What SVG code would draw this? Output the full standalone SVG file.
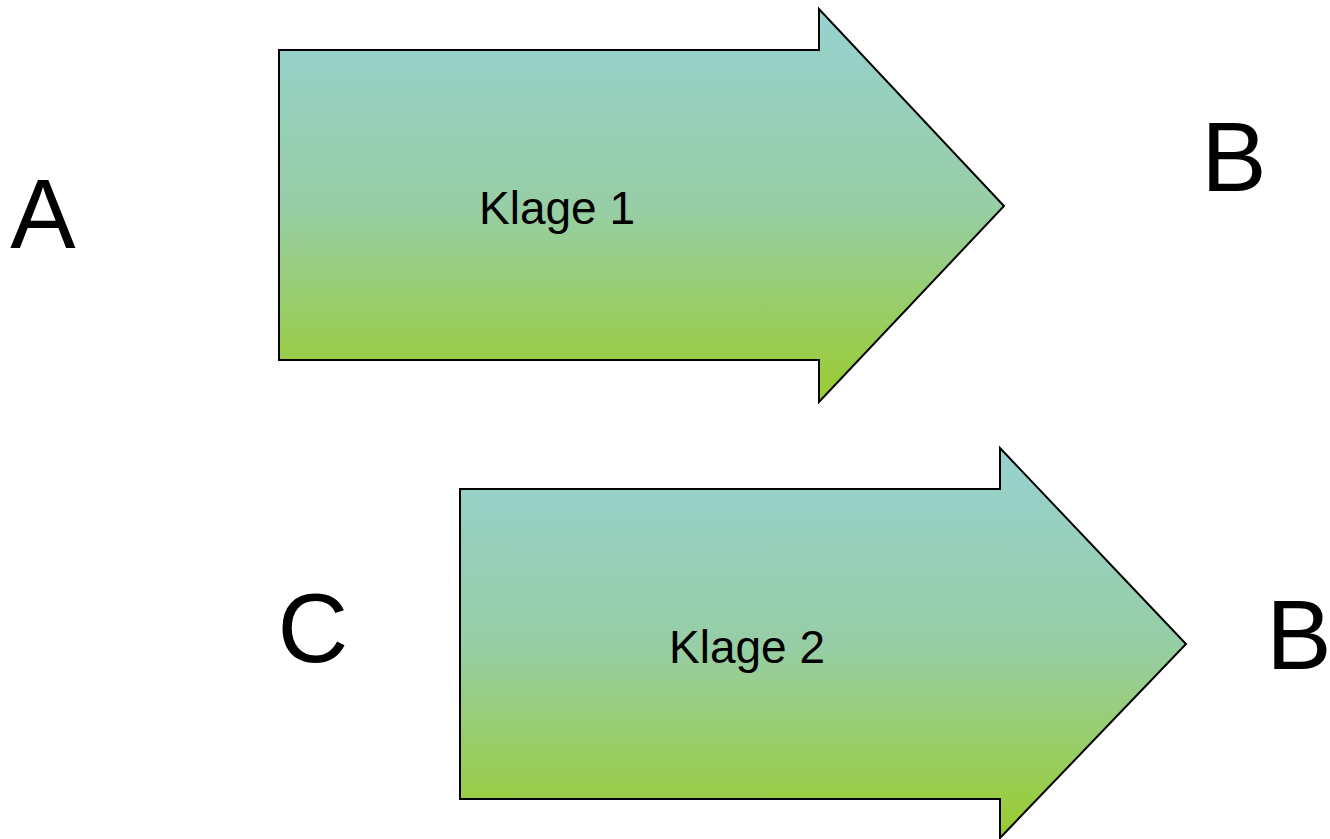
<svg xmlns="http://www.w3.org/2000/svg" width="1330" height="839" viewBox="0 0 1330 839">
<defs>
<linearGradient id="g" x1="0" y1="0" x2="0" y2="1">
<stop offset="0" stop-color="#97D1D0"/>
<stop offset="0.5" stop-color="#97CEA6"/>
<stop offset="1" stop-color="#99CC2E"/>
</linearGradient>
</defs>
<style>
.arrow{fill:url(#g);stroke:#000;stroke-width:2;stroke-linejoin:miter}
.big{font-family:"Liberation Sans",Arial,sans-serif;font-size:98px;fill:#000;text-anchor:middle}
.lbl{font-family:"Liberation Sans",Arial,sans-serif;font-size:46px;fill:#000;text-anchor:middle}
</style>
<g id="arrow1">
<path class="arrow" d="M279,50 H819 V9 L1004,206 L819,402 V360 H279 Z"/>
<text class="lbl" x="557" y="224">Klage 1</text>
</g>
<g id="arrow2">
<path class="arrow" d="M460,489 H1000 V448 L1186,644 L1000,838 V799 H460 Z"/>
<text class="lbl" x="747" y="663">Klage 2</text>
</g>
<g id="nodeA"><text class="big" x="43" y="248">A</text></g>
<g id="nodeB1"><text class="big" x="1234" y="191">B</text></g>
<g id="nodeC"><text class="big" x="313" y="662">C</text></g>
<g id="nodeB2"><text class="big" x="1299" y="669">B</text></g>
<g id="connectors"></g>
</svg>
